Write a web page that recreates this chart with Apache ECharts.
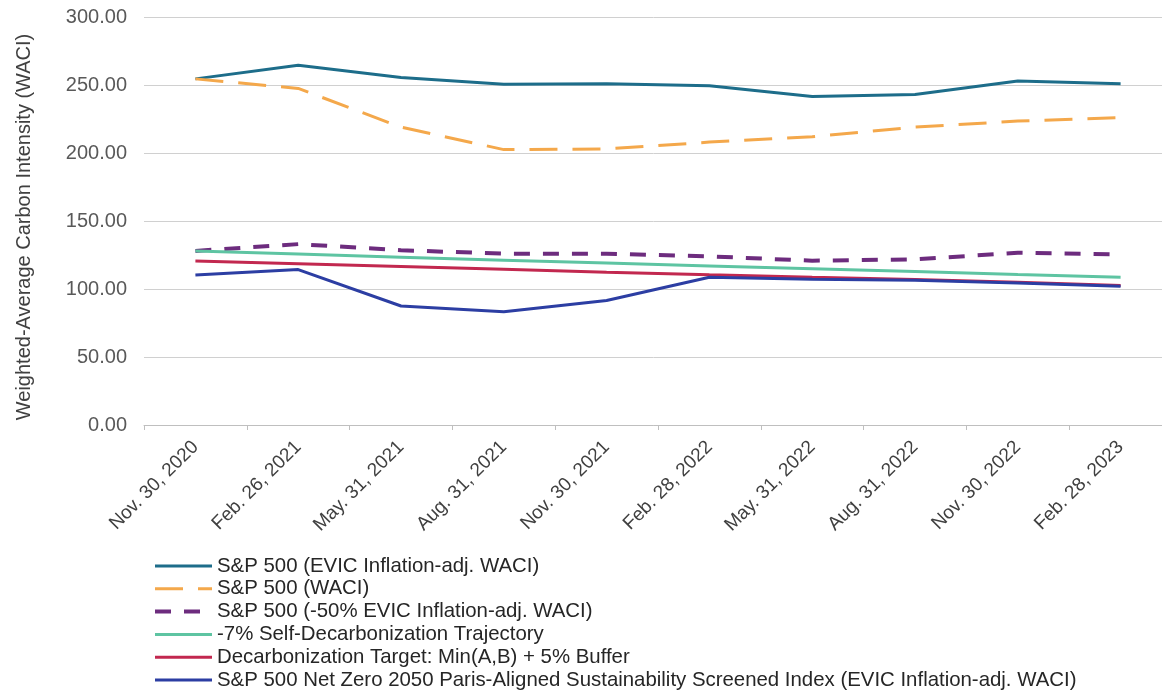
<!DOCTYPE html>
<html>
<head>
<meta charset="utf-8">
<script src="https://cdn.jsdelivr.net/npm/echarts@6/dist/echarts.min.js"></script>
<style>
    html, body { margin: 0; padding: 0; background: #fff; }
    #chart { width: 1162px; height: 694px; }
</style>
</head>
<body>
<div id="chart"></div>
<script>
// categories (quarter end dates)
const categories = ['Nov. 30, 2020', 'Feb. 26, 2021', 'May. 31, 2021', 'Aug. 31, 2021', 'Nov. 30, 2021',
    'Feb. 28, 2022', 'May. 31, 2022', 'Aug. 31, 2022', 'Nov. 30, 2022', 'Feb. 28, 2023'];

// series values
const evicWaci = [254.5, 264.5, 255.5, 250.5, 251, 249.5, 241.5, 243, 253, 251];
const waci = [254.5, 247.5, 219, 202.5, 203, 208, 212, 219, 223.5, 226];
const halfEvicWaci = [128, 133, 128.5, 126, 126, 124, 120.8, 121.8, 126.7, 125.5];
const selfDecarb = [128, 125.7, 123.4, 121.2, 119.1, 116.9, 114.8, 112.8, 110.7, 108.7];
const decarbTarget = [120.6, 118.6, 116.6, 114.5, 112.4, 110.4, 108.6, 107, 105, 102.6];
const netZero = [110.3, 114.3, 87.5, 83.3, 91.5, 108.6, 107.2, 106.5, 104.5, 102];

const seriesNames = [
    'S&P 500 (EVIC Inflation-adj. WACI)',
    'S&P 500 (WACI)',
    'S&P 500 (-50% EVIC Inflation-adj. WACI)',
    '-7% Self-Decarbonization Trajectory',
    'Decarbonization Target: Min(A,B) + 5% Buffer',
    'S&P 500 Net Zero 2050 Paris-Aligned Sustainability Screened Index (EVIC Inflation-adj. WACI)'
];
const lineWidths = [3, 3, 4, 3, 3, 3];

const font = '"Liberation Sans", Arial, sans-serif';

function line(name, data, color, width, dash) {
    return {
        name: name,
        type: 'line',
        data: data,
        symbol: 'none',
        smooth: false,
        lineStyle: { color: color, width: width, type: dash || 'solid', cap: 'butt' },
        itemStyle: { color: color },
    };
}

let options = {
    animation: false,
    textStyle: { fontFamily: font },
    grid: {
        left: 144,
        top: 17,
        width: 1028,
        height: 408,
        outerBoundsMode: 'none',
    },
    legend: {
        orient: 'vertical',
        left: 153,
        top: 556,
        padding: 0,
        itemWidth: 57,
        itemHeight: 14,
        itemGap: 2.8,
        itemStyle: { opacity: 0 },
        textStyle: {
            fontFamily: font,
            fontSize: 20.4,
            lineHeight: 20,
            color: '#262626',
        },
        data: seriesNames.map((n, i) => ({ name: n, lineStyle: { width: lineWidths[i] } })),
    },
    xAxis: {
        type: 'category',
        boundaryGap: true,
        data: categories,
        axisLine: { show: true, lineStyle: { color: '#bfbfbf', width: 1 } },
        axisTick: { show: true, length: 5, lineStyle: { color: '#bfbfbf' } },
        axisLabel: {
            rotate: 45,
            margin: 19,
            fontSize: 19,
            color: '#404040',
            fontFamily: font,
            interval: 0,
        },
        splitLine: { show: false },
    },
    yAxis: {
        type: 'value',
        min: 0,
        max: 300,
        interval: 50,
        axisLine: { show: false },
        axisTick: { show: false },
        axisLabel: {
            margin: 17,
            fontSize: 20,
            color: '#595959',
            fontFamily: font,
            formatter: v => v.toFixed(2),
        },
        splitLine: { lineStyle: { color: '#d0d0d0', width: 1 } },
        name: 'Weighted-Average Carbon Intensity (WACI)',
        nameLocation: 'middle',
        nameGap: 110,
        nameTextStyle: {
            fontSize: 20,
            color: '#404040',
            fontFamily: font,
            padding: [0, 12, 0, 0],
        },
    },
    series: [
        line(seriesNames[0], evicWaci, '#1d6d8a', lineWidths[0]),
        line(seriesNames[1], waci, '#f4a84b', lineWidths[1], [28, 15]),
        line(seriesNames[2], halfEvicWaci, '#6d2c7e', lineWidths[2], [16, 13]),
        line(seriesNames[3], selfDecarb, '#5ec4a2', lineWidths[3]),
        line(seriesNames[4], decarbTarget, '#c2284f', lineWidths[4]),
        line(seriesNames[5], netZero, '#2c3ea3', lineWidths[5]),
    ],
};

const chart = echarts.init(document.getElementById('chart'));
chart.setOption(options);
</script>
</body>
</html>
